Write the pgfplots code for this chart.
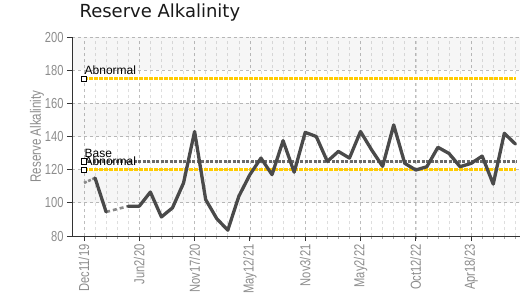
\documentclass[border=0pt]{standalone}
\usepackage{pgfplots}
\pgfplotsset{compat=1.18}
\usepackage{fontspec}
\setmainfont{Liberation Sans}
\newfontfamily\condfont{Liberation Sans}[FakeStretch=0.77]
\newfontfamily\titlefont{DejaVu Sans}
\definecolor{linegray}{HTML}{4A4A4A}
\definecolor{lightseg}{HTML}{8A8A8A}
\definecolor{abnyellow}{HTML}{FFCC00}
\definecolor{basegray}{HTML}{6A6A6A}
\definecolor{ticktext}{HTML}{8C8C8C}
\begin{document}
\begin{tikzpicture}
\begin{axis}[
  name=main,
  at={(0pt,0pt)}, anchor=south west,
  scale only axis, width=448pt, height=199pt,
  xmin=-1.085, xmax=39.42, ymin=80, ymax=200,
  /pgf/number format/assume math mode=true,
  axis x line*=bottom, axis y line*=left,
  axis line style={draw=black!80, line width=0.9pt},
  xtick={0,5,...,35},
  xticklabels={Dec11/19,Jun2/20,Nov17/20,May12/21,Nov3/21,May2/22,Oct12/22,Apr18/23},
  minor xtick={0,1,...,39},
  ytick={80,100,...,200},
  tick align=outside,
  major tick length=5pt, minor tick length=2.5pt,
  major tick style={draw=black!80, line width=0.9pt},
  minor tick style={draw=black!35, line width=0.6pt},
  xmajorgrids=true, ymajorgrids=true, xminorgrids=true,
  major grid style={dashed, draw=black!26, line width=0.7pt},
  minor grid style={dashed, draw=black!13, line width=0.6pt},
  xticklabel style={rotate=90, anchor=east, font=\condfont\fontsize{14.5}{14.5}\selectfont, text=ticktext},
  yticklabel style={font=\condfont\fontsize{14.5}{14.5}\selectfont, text=ticktext},
  ylabel={Reserve Alkalinity},
  every axis y label/.style={at={(axis description cs:-0.078,0.5)}, rotate=90, anchor=center, font=\condfont\fontsize{15}{15}\selectfont, text=ticktext},
  title={Reserve Alkalinity},
  title style={at={(axis description cs:0,1)}, anchor=base west, xshift=4pt, yshift=14pt, font=\titlefont\fontsize{18}{18}\selectfont, text=black!90},
  clip=false,
]
% background bands
\addplot[draw=none, fill=black, fill opacity=0.035] coordinates {(-1.085,100) (39.42,100) (39.42,120) (-1.085,120)} -- cycle;
\addplot[draw=none, fill=black, fill opacity=0.035] coordinates {(-1.085,140) (39.42,140) (39.42,160) (-1.085,160)} -- cycle;
\addplot[draw=none, fill=black, fill opacity=0.035] coordinates {(-1.085,180) (39.42,180) (39.42,200) (-1.085,200)} -- cycle;
% reference lines
\addplot[abnyellow, line width=3pt, dash pattern=on 4pt off 1pt] coordinates {(0,175) (39.1,175)};
\addplot[basegray, line width=2.4pt, dash pattern=on 3pt off 1.5pt] coordinates {(0,125) (39.1,125)};
\addplot[abnyellow, line width=3pt, dash pattern=on 4pt off 1pt] coordinates {(0,120) (39.1,120)};
% data
\addplot[lightseg, line width=2.6pt, dash pattern=on 3pt off 1.5pt] coordinates {(0,112) (1,115)};
\addplot[lightseg, line width=2.6pt, dash pattern=on 4pt off 3pt] coordinates {(2,94.5) (4,98)};
\addplot[linegray, line width=3.3pt, line join=round, line cap=round] coordinates {(1,115) (2,94.5)};
\addplot[linegray, line width=3.3pt, line join=round, line cap=round] coordinates {
(4,98) (5,98) (6,106.5) (7,91.5) (8,97) (9,112) (10,143) (11,102) (12,90.5) (13,83.5)
(14,104) (15,117) (16,127) (17,117) (18,137.5) (19,118.5) (20,142.5) (21,140) (22,125) (23,131)
(24,127) (25,143) (26,132) (27,122) (28,147) (29,123.8) (30,119.8) (31,121.8) (32,133.5) (33,129.8)
(34,121.8) (35,123.8) (36,128.2) (37,111.3) (38,141.9) (39,135.5)};
% markers
\addplot[only marks, mark=square*, mark size=2.6pt, mark options={fill=white, draw=black, line width=0.7pt}] coordinates {(0,175) (0,125) (0,120)};
\node[anchor=south west, inner sep=0pt, xshift=0.5pt, yshift=3.5pt, font=\fontsize{12}{12}\selectfont] at (axis cs:0,175) {Abnormal};
\node[anchor=south west, inner sep=0pt, xshift=0.5pt, yshift=3.5pt, font=\fontsize{12}{12}\selectfont] at (axis cs:0,125) {Base};
\node[anchor=south west, inner sep=0pt, xshift=0.5pt, yshift=3.5pt, font=\fontsize{12}{12}\selectfont] at (axis cs:0,120) {Abnormal};
\end{axis}
\path (-72pt,-61pt) rectangle (455pt,236pt);
\end{tikzpicture}
\end{document}
